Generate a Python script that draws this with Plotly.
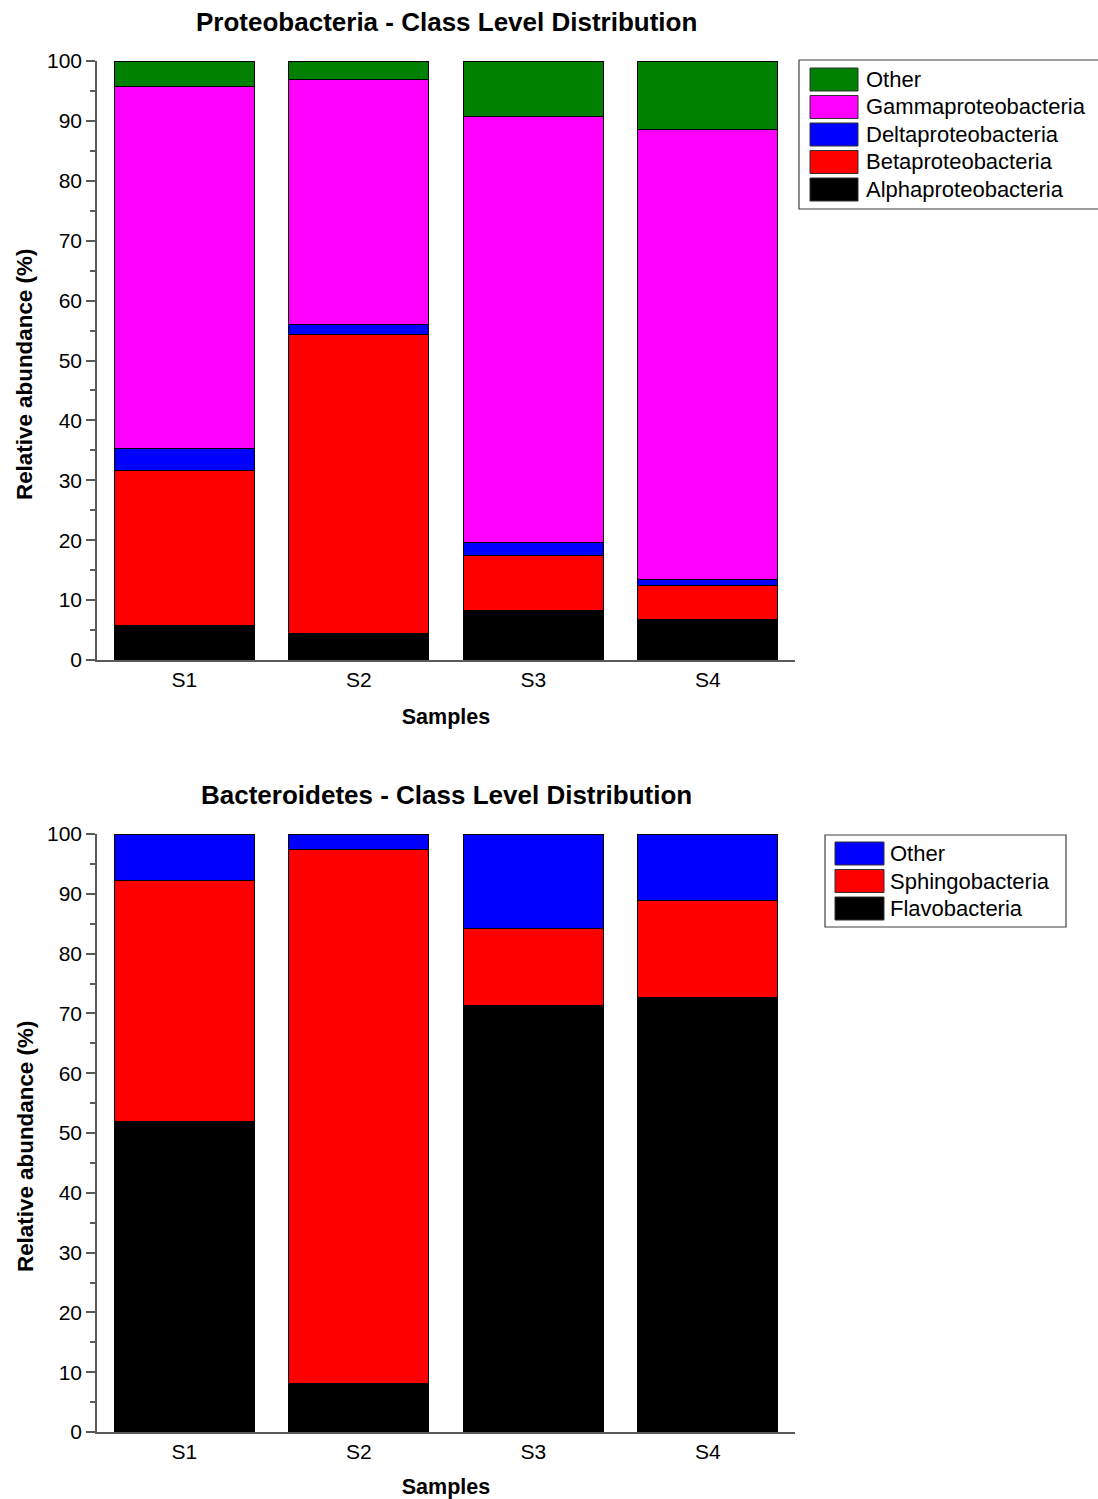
import plotly.graph_objects as go

# ---- data -------------------------------------------------------------
samples = ["S1", "S2", "S3", "S4"]

# Proteobacteria, class level (% relative abundance)
proteo_classes = ["Alphaproteobacteria", "Betaproteobacteria", "Deltaproteobacteria",
                  "Gammaproteobacteria", "Other"]
alpha = [5.7, 4.4, 8.2, 6.8]
beta = [26.0, 49.9, 9.2, 5.7]
delta = [3.6, 1.7, 2.2, 1.0]
gamma = [60.4, 40.9, 71.1, 75.0]
proteo_other = [4.3, 3.1, 9.3, 11.5]

# Bacteroidetes, class level (% relative abundance)
bactero_classes = ["Flavobacteria", "Sphingobacteria", "Other"]
flavo = [51.9, 8.1, 71.4, 72.6]
sphingo = [40.4, 89.3, 12.8, 16.3]
bactero_other = [7.7, 2.6, 15.8, 11.1]

y_ticks = [0, 10, 20, 30, 40, 50, 60, 70, 80, 90, 100]

# ---- styling ----------------------------------------------------------
proteo_colors = ["#000000", "#FF0000", "#0000FF", "#FF00FF", "#008000"]
bactero_colors = ["#000000", "#FF0000", "#0000FF"]
FONT = "Arial, 'Liberation Sans', sans-serif"
W, H = 1098, 1499
ML, MR = 97, 303
PW = W - ML - MR


def px_x(px):
    return (px - ML) / PW


def px_y(py):
    return 1 - py / H


fig = go.Figure()

proteo_series = [alpha, beta, delta, gamma, proteo_other]
for name, vals, col in zip(proteo_classes, proteo_series, proteo_colors):
    fig.add_trace(go.Bar(x=samples, y=vals, name=name, marker_color=col,
                         marker_line=dict(color="#000000", width=1),
                         xaxis="x", yaxis="y", showlegend=False))

bactero_series = [flavo, sphingo, bactero_other]
for name, vals, col in zip(bactero_classes, bactero_series, bactero_colors):
    fig.add_trace(go.Bar(x=samples, y=vals, name=name, marker_color=col,
                         marker_line=dict(color="#000000", width=1),
                         xaxis="x2", yaxis="y2", showlegend=False))

axis_line = "#5a5a5a"
xcommon = dict(range=[-0.5, 3.5], showline=True, linecolor=axis_line, linewidth=1.5,
               ticks="", showgrid=False, zeroline=False, automargin=False,
               tickfont=dict(family=FONT, size=21, color="#000000"),
               title=dict(text="<b>Samples</b>", font=dict(family=FONT, size=21.5, color="#000000"),
                          standoff=19))
ycommon = dict(range=[0, 100], tickvals=y_ticks, showline=True, linecolor=axis_line,
               linewidth=1.5, ticks="outside", ticklen=9, tickwidth=1.5, tickcolor=axis_line,
               minor=dict(dtick=5, ticks="outside", ticklen=5, tickwidth=1.5, tickcolor=axis_line),
               showgrid=False, zeroline=False, automargin=False,
               tickfont=dict(family=FONT, size=21, color="#000000"))

fig.update_layout(
    width=W, height=H,
    margin=dict(l=ML, r=MR, t=0, b=0),
    paper_bgcolor="white", plot_bgcolor="white",
    barmode="stack", bargap=0.2,
    xaxis=dict(domain=[0, 1], anchor="y", **xcommon),
    yaxis=dict(domain=[px_y(660), px_y(61)], anchor="x", **ycommon),
    xaxis2=dict(domain=[0, 1], anchor="y2", **xcommon),
    yaxis2=dict(domain=[px_y(1432), px_y(834)], anchor="x2", **ycommon),
)

annotations = []
shapes = []

# chart titles
for text, cy in [("Proteobacteria - Class Level Distribution", 22),
                 ("Bacteroidetes - Class Level Distribution", 795)]:
    annotations.append(dict(text=f"<b>{text}</b>", xref="paper", yref="paper",
                            x=px_x(446), y=px_y(cy), xanchor="center", yanchor="middle",
                            showarrow=False, font=dict(family=FONT, size=26, color="#000000")))

# vertical axis titles
for cy in [375, 1147]:
    annotations.append(dict(text="<b>Relative abundance (%)</b>", xref="paper", yref="paper",
                            x=px_x(25), y=px_y(cy), xanchor="center", yanchor="middle",
                            textangle=-90, showarrow=False,
                            font=dict(family=FONT, size=22.4, color="#000000")))


def draw_legend(names, colors, box, sw_x, text_x, row_top, pitch, sw_h):
    x0, y0, x1, y1 = box
    shapes.append(dict(type="rect", xref="paper", yref="paper",
                       x0=px_x(x0), x1=px_x(x1), y0=px_y(y1), y1=px_y(y0),
                       line=dict(color="#404040", width=1.2), fillcolor="white"))
    for i, (nm, col) in enumerate(zip(names, colors)):
        top = row_top + i * pitch
        shapes.append(dict(type="rect", xref="paper", yref="paper",
                           x0=px_x(sw_x[0]), x1=px_x(sw_x[1]),
                           y0=px_y(top + sw_h), y1=px_y(top),
                           line=dict(color="#303030", width=1), fillcolor=col))
        annotations.append(dict(text=nm, xref="paper", yref="paper",
                                x=px_x(text_x), y=px_y(top + sw_h / 2),
                                xanchor="left", yanchor="middle", showarrow=False,
                                font=dict(family=FONT, size=22, color="#000000")))


# legends list the stacked series from top to bottom
draw_legend(proteo_classes[::-1], proteo_colors[::-1], (799, 60, 1110, 209),
            (810, 858), 864, 68, 27.5, 23)
draw_legend(bactero_classes[::-1], bactero_colors[::-1], (825, 835, 1066, 927),
            (835, 884), 888, 842, 27.5, 23)

fig.update_layout(annotations=annotations, shapes=shapes)

fig.write_html("out.html")
